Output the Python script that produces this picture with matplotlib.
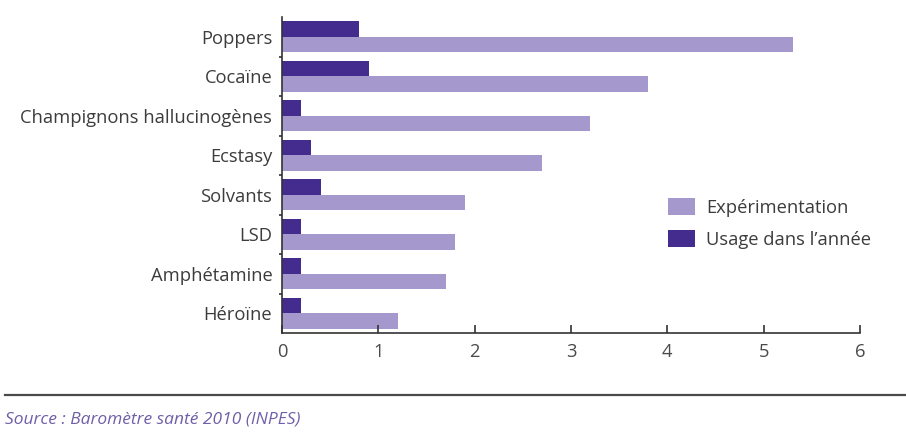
import numpy as np
import matplotlib.pyplot as plt
from matplotlib.ticker import FixedLocator

plt.rcParams['font.family'] = ['Open Sans', 'DejaVu Sans']

# Data (%)
produits = ['Poppers', 'Cocaïne', 'Champignons hallucinogènes', 'Ecstasy',
            'Solvants', 'LSD', 'Amphétamine', 'Héroïne']
experimentation = [5.3, 3.8, 3.2, 2.7, 1.9, 1.8, 1.7, 1.2]
usage_annee = [0.8, 0.9, 0.2, 0.3, 0.4, 0.2, 0.2, 0.2]

clair = '#a498cc'
fonce = '#432c8e'
texte = '#3c3c3c'
fs = 13.2

fig = plt.figure(figsize=(9.06, 4.36), dpi=100)
ax = fig.add_axes([0.3113, 0.2362, 0.6379, 0.7248])

pos = np.arange(len(produits))
h = 0.39
ax.barh(pos - h / 2, usage_annee, height=h, color=fonce, label="Usage dans l’année")
ax.barh(pos + h / 2, experimentation, height=h, color=clair, label='Expérimentation')

ax.set_ylim(len(produits) - 0.5, -0.5)
ax.set_xlim(0, 6)
ax.set_xticks(range(7))
ax.set_yticks(pos)
ax.set_yticklabels(produits, fontsize=fs, color=texte)
ax.yaxis.set_minor_locator(FixedLocator(np.arange(0.5, len(produits) - 0.5, 1)))

for s in ['top', 'right']:
    ax.spines[s].set_visible(False)
for s in ['left', 'bottom']:
    ax.spines[s].set_color('#333333')
    ax.spines[s].set_linewidth(1.2)

ax.tick_params(axis='x', direction='in', length=6, width=1.2, color='#333333',
               pad=7, labelsize=fs, labelcolor='#4a4a4a')
ax.tick_params(axis='y', which='major', length=0, pad=7)
ax.tick_params(axis='y', which='minor', length=2, width=1.2, color='#333333')

handles, labels = ax.get_legend_handles_labels()
fig.legend(handles[::-1], labels[::-1], loc='upper left',
           bbox_to_anchor=(668 / 906, 1 - 198 / 436), frameon=False,
           fontsize=fs, handlelength=1.47, handleheight=1.05,
           handletextpad=0.6, labelspacing=0.72, borderpad=0,
           borderaxespad=0, labelcolor=texte)

# filet et source en bas de figure
fig.add_artist(plt.Line2D([5 / 906, 1], [1 - 395 / 436] * 2, color='#4a4a4a', lw=1.6))
fig.text(5 / 906, 1 - 419 / 436, 'Source : Baromètre santé 2010 (INPES)',
         fontsize=12.5, style='italic', color='#6f5fa8', va='center')

plt.savefig('out.png', dpi=100)
